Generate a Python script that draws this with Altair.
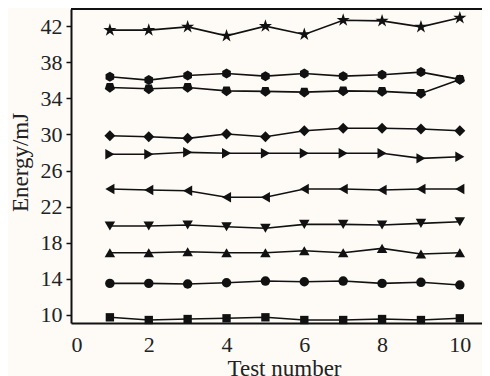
import altair as alt
import pandas as pd

tests = [1, 2, 3, 4, 5, 6, 7, 8, 9, 10]

names = ["square", "circle", "tri_up", "tri_down", "tri_left",
         "tri_right", "diamond", "pentagon", "hexagon", "star"]

square = [9.74, 9.44, 9.55, 9.63, 9.74, 9.44, 9.44, 9.55, 9.44, 9.63]
circle = [13.50, 13.50, 13.43, 13.57, 13.76, 13.68, 13.76, 13.50, 13.62, 13.32]
tri_up = [16.89, 16.89, 17.00, 16.89, 16.89, 17.12, 16.89, 17.38, 16.75, 16.89]
tri_down = [19.85, 19.85, 19.96, 19.77, 19.60, 20.04, 20.04, 19.96, 20.15, 20.33]
tri_left = [23.95, 23.84, 23.77, 23.04, 23.04, 23.95, 23.95, 23.84, 23.95, 23.95]
tri_right = [27.80, 27.80, 28.02, 27.91, 27.91, 27.91, 27.91, 27.91, 27.35, 27.53]
diamond = [29.86, 29.75, 29.57, 30.05, 29.75, 30.41, 30.68, 30.68, 30.60, 30.41]
pentagon = [35.21, 35.06, 35.21, 34.83, 34.77, 34.69, 34.83, 34.77, 34.55, 36.10]
hexagon = [36.39, 36.02, 36.54, 36.76, 36.46, 36.76, 36.46, 36.61, 36.91, 36.10]
star = [41.56, 41.56, 41.92, 40.93, 42.00, 41.08, 42.66, 42.58, 41.92, 42.92]

x_ticks = [0, 2, 4, 6, 8, 10]
y_ticks = [10, 14, 18, 22, 26, 30, 34, 38, 42]
x_range = [0, 10.57]
y_range = [9.11, 43.9]

series = [square, circle, tri_up, tri_down, tri_left,
          tri_right, diamond, pentagon, hexagon, star]

PENTAGON = "M0,1L0.951,0.309L0.588,-0.809L-0.588,-0.809L-0.951,0.309Z"
HEXAGON = "M0,-1L0.866,-0.5L0.866,0.5L0,1L-0.866,0.5L-0.866,-0.5Z"
STAR = ("M0,-1L0.2245,-0.309L0.9511,-0.309L0.3633,0.118L0.5878,0.809"
        "L0,0.382L-0.5878,0.809L-0.3633,0.118L-0.9511,-0.309L-0.2245,-0.309Z")
shapes = ["square", "circle", "triangle-up", "triangle-down", "triangle-left",
          "triangle-right", "diamond", PENTAGON, HEXAGON, STAR]
sizes = [70, 90, 110, 110, 110, 110, 120, 115, 100, 190]

FONT = "Liberation Serif"
INK = "#111111"

xscale = alt.Scale(domain=x_range, nice=False, zero=False)
yscale = alt.Scale(domain=y_range, nice=False, zero=False)

x_axis = alt.Axis(values=x_ticks, ticks=False, tickSize=0, labelPadding=11,
                  labelOverlap=False,
                  title="Test number", titleX=213, titleY=52,
                  titleBaseline="alphabetic", grid=False)
y_axis = alt.Axis(values=y_ticks, tickSize=5, labelPadding=4, labelOverlap=False,
                  title="Energy/mJ", titleAngle=270, titleX=-44, titleY=153,
                  titleBaseline="alphabetic", grid=False)

layers = []
for name, vals, shp, sz in zip(names, series, shapes, sizes):
    d = pd.DataFrame({"test": tests, "energy": vals, "series": name})
    enc = dict(
        x=alt.X("test:Q", scale=xscale, axis=x_axis),
        y=alt.Y("energy:Q", scale=yscale, axis=y_axis),
    )
    layers.append(alt.Chart(d).mark_line(color=INK, strokeWidth=1.6).encode(**enc))
    layers.append(
        alt.Chart(d).mark_point(filled=True, opacity=1, color=INK, shape=shp, size=sz).encode(**enc)
    )

top_frame = alt.Chart().mark_rule(color=INK, strokeWidth=2).encode(
    x=alt.XDatum(x_range[0], type="quantitative", scale=xscale, axis=x_axis),
    x2=alt.X2Datum(x_range[1]),
    y=alt.YDatum(y_range[1], type="quantitative", scale=yscale, axis=y_axis),
)
layers.append(top_frame)

chart = (
    alt.layer(*layers)
    .properties(
        width=411,
        height=314,
        padding={"left": 63, "top": 1, "right": 0, "bottom": 53},
        autosize=alt.AutoSizeParams(type="none"),
        background="#fefbf7",
    )
    .configure_view(stroke=None)
    .configure_axis(
        labelFont=FONT,
        labelFontSize=22,
        labelColor="#222222",
        titleFont=FONT,
        titleFontSize=23,
        titleFontWeight="normal",
        titleColor="#222222",
        domainColor=INK,
        domainWidth=2,
        tickColor=INK,
        tickWidth=1.5,
    )
)

chart.save("out.html", embed_options={"renderer": "svg", "actions": False})
